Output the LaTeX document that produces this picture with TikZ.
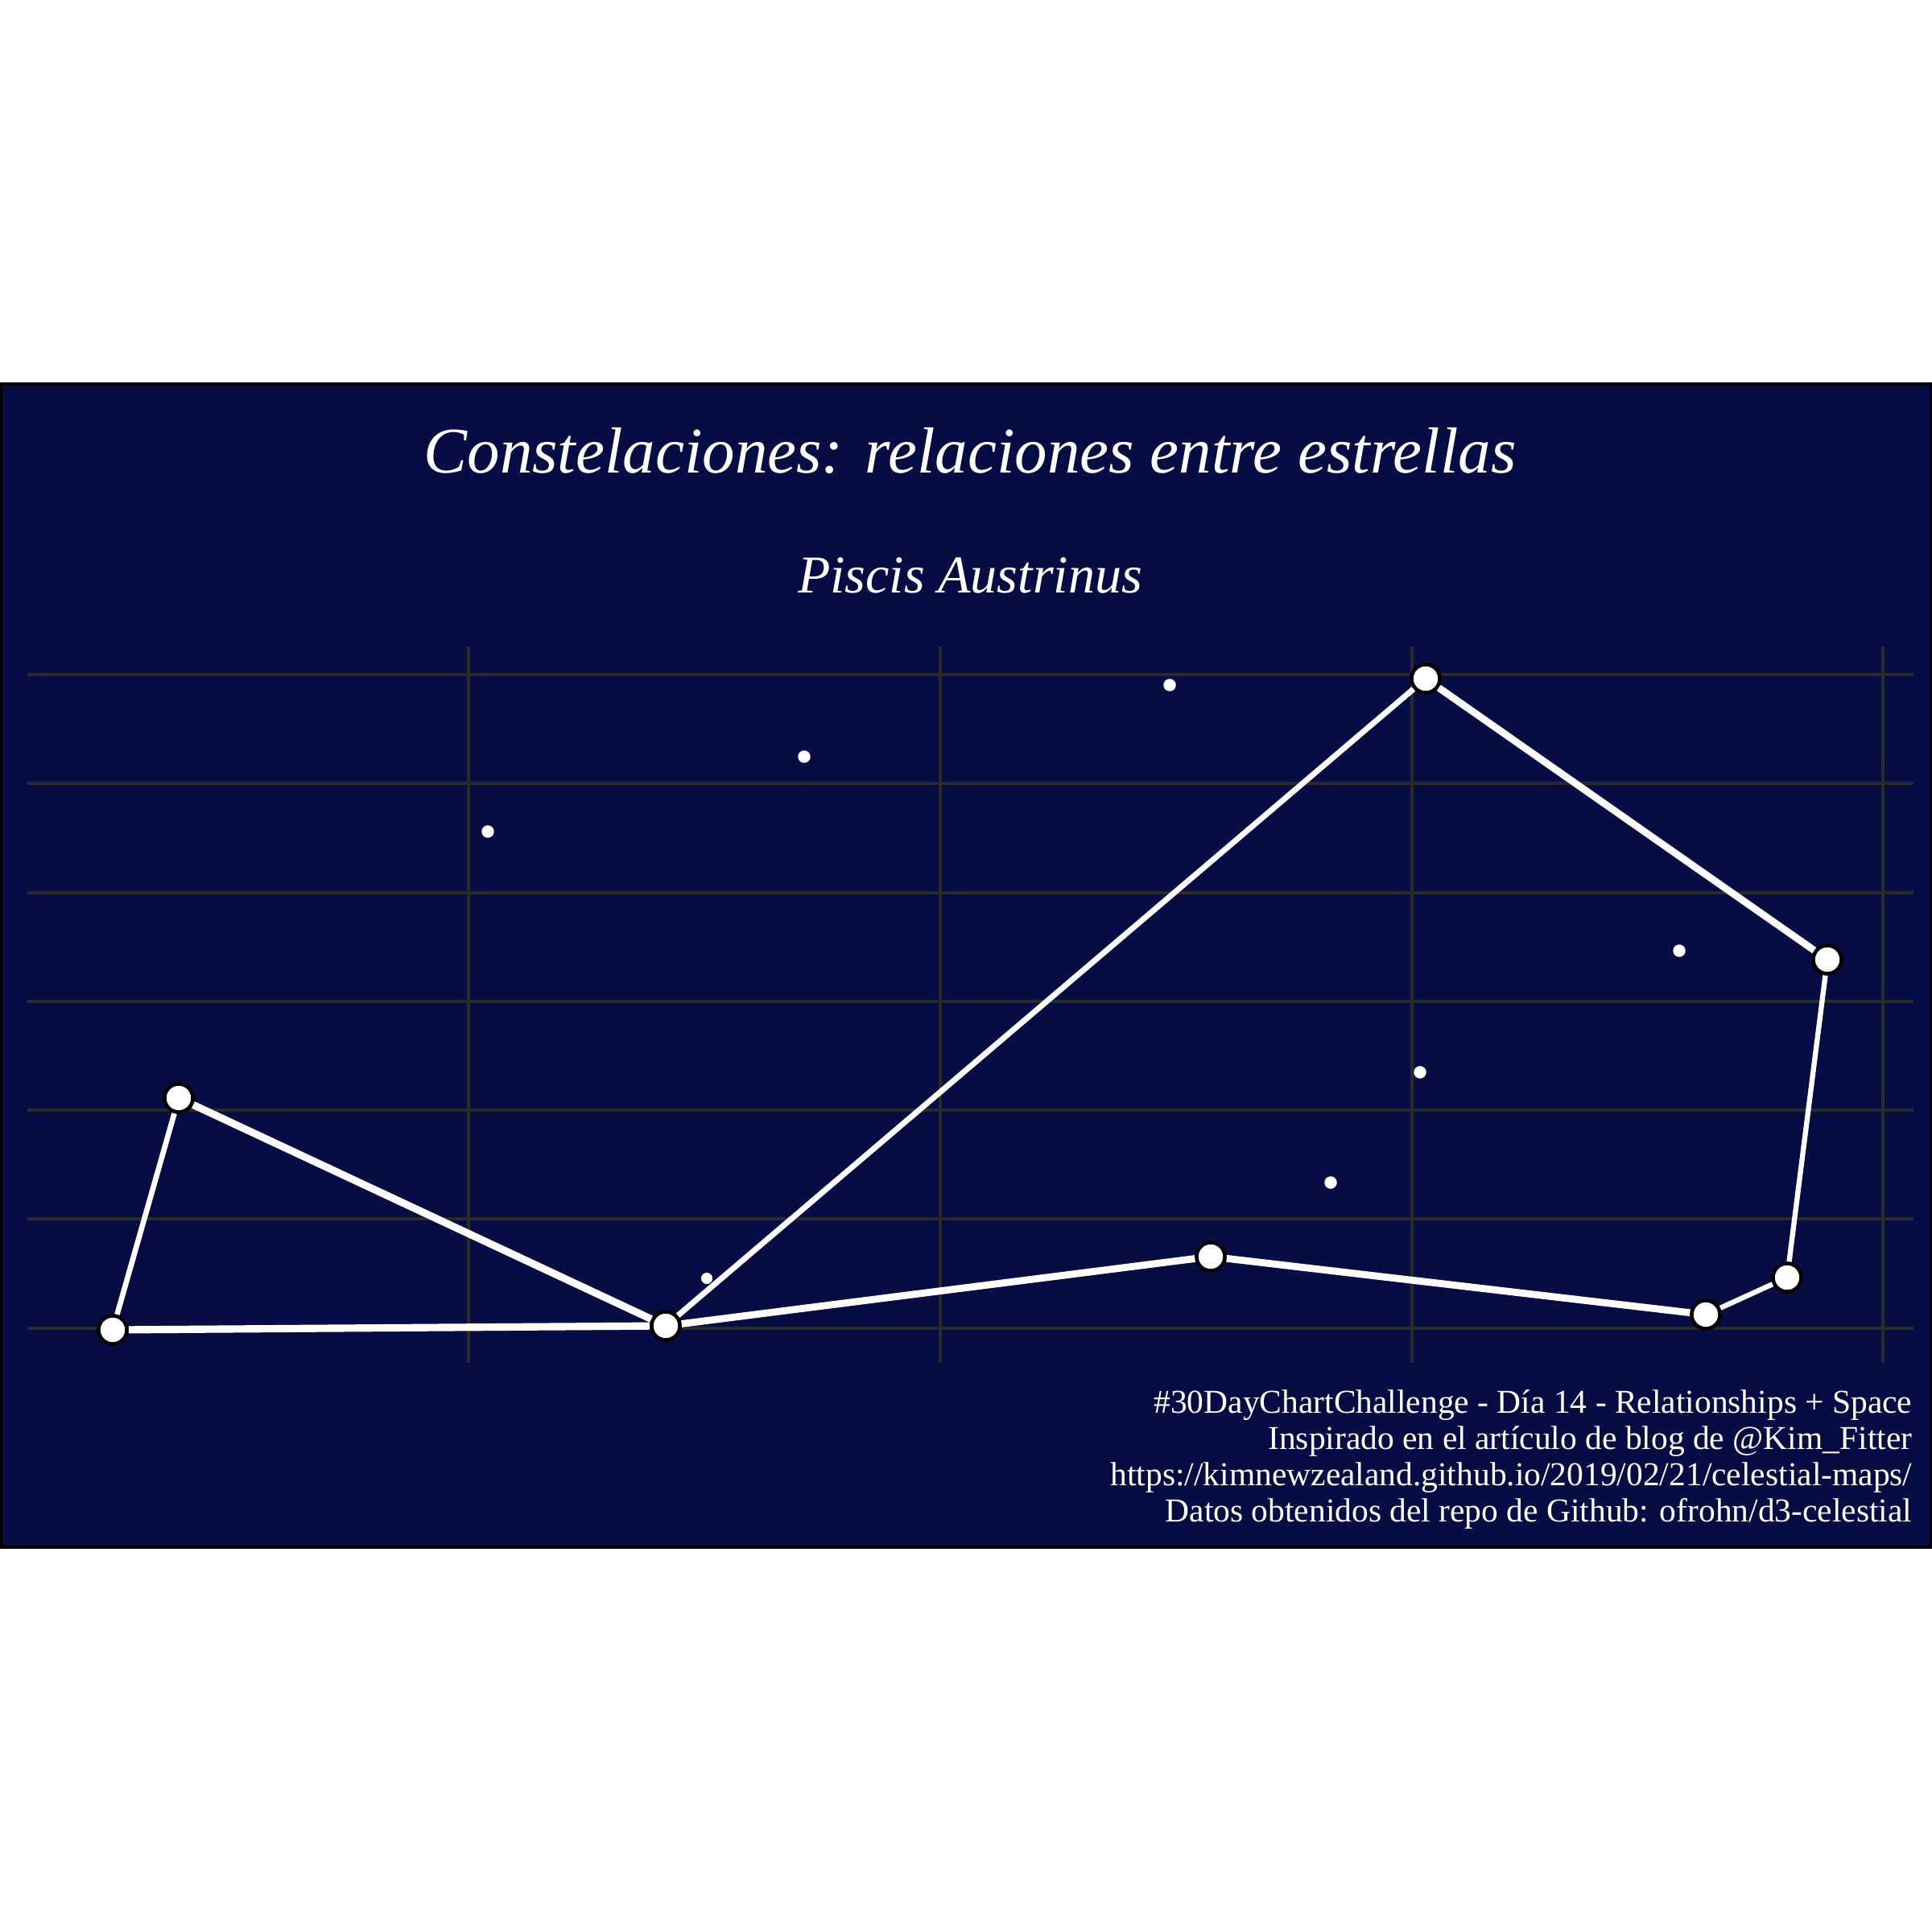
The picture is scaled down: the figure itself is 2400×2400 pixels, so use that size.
\documentclass[tikz,border=0pt]{standalone}
\usepackage{fontspec}
\setmainfont{Liberation Serif}
\definecolor{navy}{RGB}{6,13,69}
\definecolor{gridc}{RGB}{42,42,40}
\begin{document}
\begin{tikzpicture}[x=0.01cm,y=-0.01cm,
  bigstar/.style={circle,fill=white,draw=black,line width=1.3pt,minimum size=10pt,inner sep=0pt},
  smallstar/.style={circle,fill=white,minimum size=4.4pt,inner sep=0pt},
  gridline/.style={gridc,line width=1pt},
  link/.style={white,line width=#1pt},
  txt/.style={text=white,inner sep=0pt},
  captxt/.style={txt,anchor=base east,font=\fontsize{11.8pt}{14pt}\selectfont}]
\useasboundingbox (0,0) rectangle (2400,2400);
\fill[white] (0,0) rectangle (2400,2400);
\draw[fill=navy,draw=black,line width=0.9pt] (1.5,477) rectangle (2398.5,1922);
% grid
\foreach \y in {838,973,1109,1244,1379,1514,1650}
  \draw[gridline] (34,\y) -- (2377,\y);
\foreach \x in {582,1168,1754,2339}
  \draw[gridline] (\x,803) -- (\x,1693);
% title
\node[txt,anchor=base] (title) at (1205,587) {\fontsize{23pt}{27pt}\selectfont\itshape Constelaciones: relaciones entre estrellas};
\node[txt,anchor=base] (subtitle) at (1205,736) {\fontsize{18.8pt}{22pt}\selectfont\itshape Piscis Austrinus};
% faint stars
\node[smallstar] (s1) at (606,1033) {};
\node[smallstar] (s2) at (999,940) {};
\node[smallstar] (s3) at (1453,851) {};
\node[smallstar] (s4) at (2086,1181) {};
\node[smallstar] (s5) at (1764,1332) {};
\node[smallstar] (s6) at (1653,1469) {};
\node[smallstar,minimum size=4pt] (s7) at (878,1588) {};
% main stars
\node[bigstar] (A) at (140,1652) {};
\node[bigstar] (B) at (222,1364) {};
\node[bigstar] (C) at (827,1647) {};
\node[bigstar] (D) at (1771,843) {};
\node[bigstar] (E) at (2270,1192) {};
\node[bigstar] (F) at (2220,1587) {};
\node[bigstar] (G) at (2119,1633) {};
\node[bigstar] (H) at (1504,1561) {};
% links
\draw[link=1.9] (A) -- (B);
\draw[link=2.6] (B) -- (C);
\draw[link=2.6] (A) -- (C);
\draw[link=2.0] (C) -- (D);
\draw[link=2.5] (D) -- (E);
\draw[link=1.8] (E) -- (F);
\draw[link=1.8] (F) -- (G);
\draw[link=2.5] (G) -- (H);
\draw[link=2.5] (H) -- (C);
% caption
\node[captxt] (cap1) at (2376,1755) {\#30DayChartChallenge - Día 14 - Relationships + Space};
\node[captxt] (cap2) at (2376,1800) {Inspirado en el artículo de blog de @Kim\_Fitter};
\node[captxt] (cap3) at (2376,1845) {https://kimnewzealand.github.io/2019/02/21/celestial-maps/};
\node[captxt] (cap4) at (2376,1890) {Datos obtenidos del repo de Github: ofrohn/d3-celestial};
\end{tikzpicture}
\end{document}
